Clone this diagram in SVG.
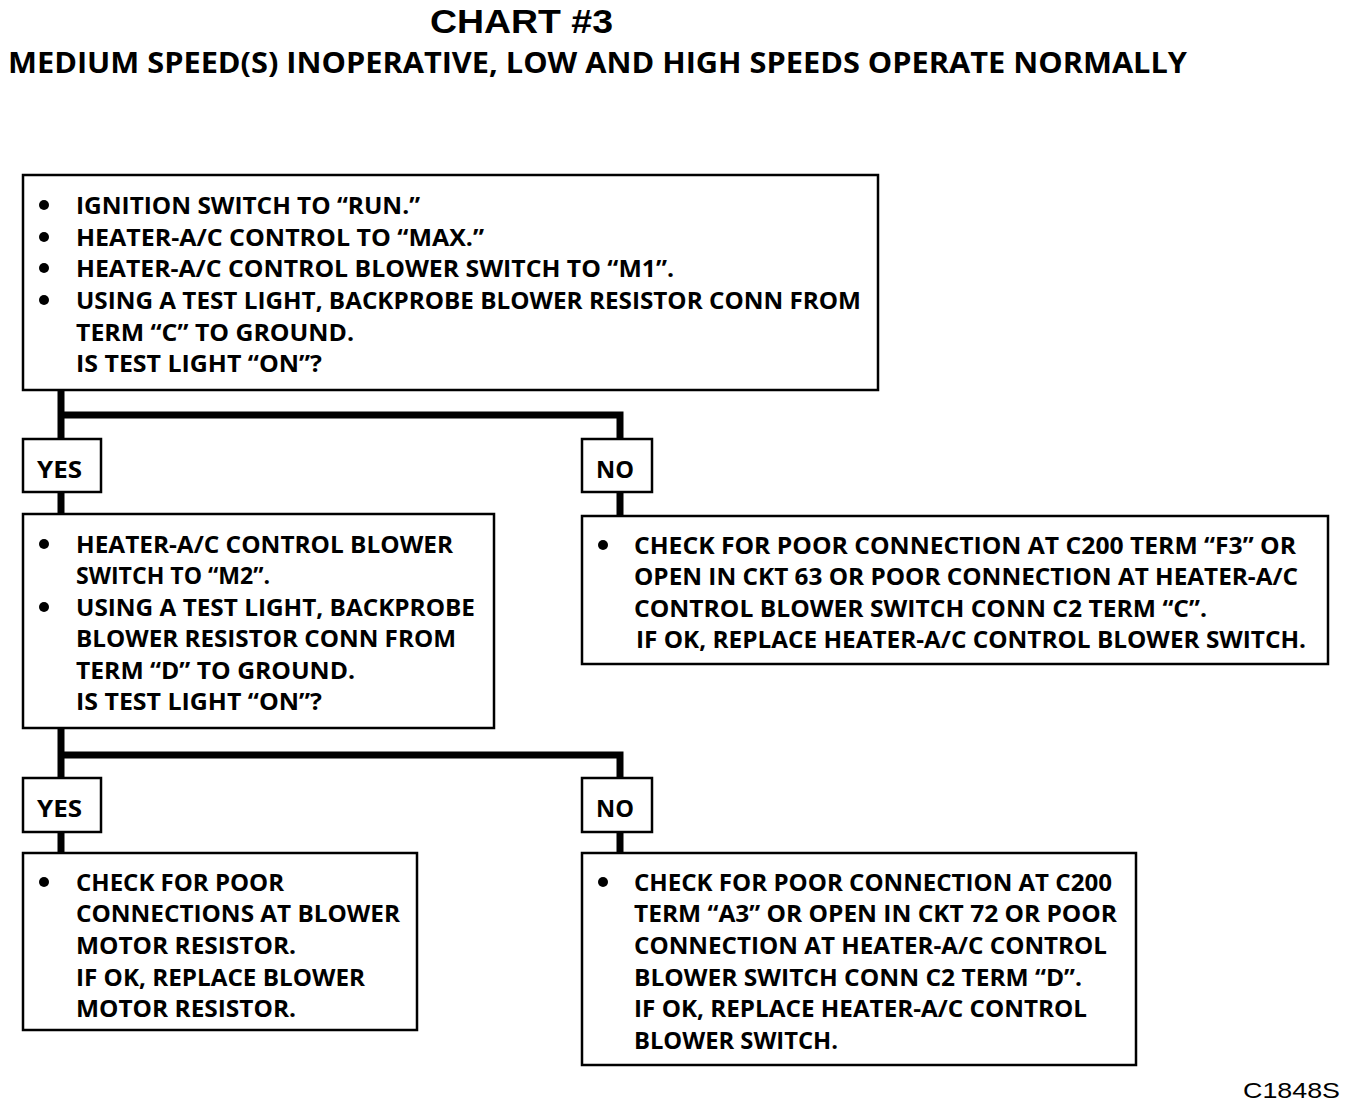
<svg xmlns="http://www.w3.org/2000/svg" width="1360" height="1110" viewBox="0 0 1360 1110">
<style>
.box{fill:#fff;stroke:#000;stroke-width:2.5}
.lab{fill:#fff;stroke:#000;stroke-width:2.5}
.t{font-family:"Open Sans","Liberation Sans",sans-serif;font-weight:bold;font-size:24px;fill:#000}
.h1{font-family:"Liberation Sans",sans-serif;font-weight:bold;font-size:34px;fill:#000}
.h2{font-family:"Open Sans","Liberation Sans",sans-serif;font-weight:bold;font-size:29px;fill:#000}
.code{font-family:"Liberation Sans",sans-serif;font-size:22px;fill:#000}
.c{fill:none;stroke:#000;stroke-width:7}
.b{fill:#000}
</style>
<rect width="1360" height="1110" fill="#fff"/>
<g id="title">
<text class="h1" x="430" y="33" textLength="183" lengthAdjust="spacingAndGlyphs">CHART #3</text>
<text class="h2" x="8" y="73" textLength="1179" lengthAdjust="spacingAndGlyphs">MEDIUM SPEED(S) INOPERATIVE, LOW AND HIGH SPEEDS OPERATE NORMALLY</text>
</g>
<g id="connectors">
<path class="c" d="M61 390 V439 M57.5 415 H620 V439"/>
<path class="c" d="M61 492 V514 M620 492 V516"/>
<path class="c" d="M61 728 V778 M57.5 755 H620 V778"/>
<path class="c" d="M61 832 V853 M620 832 V853"/>
</g>
<g id="n1">
<rect class="box" x="23" y="175" width="855" height="215"/>
<circle class="b" cx="44" cy="205" r="5"/>
<circle class="b" cx="44" cy="237" r="5"/>
<circle class="b" cx="44" cy="268" r="5"/>
<circle class="b" cx="44" cy="300" r="5"/>
<text class="t" x="76" y="214" textLength="344" lengthAdjust="spacingAndGlyphs">IGNITION SWITCH TO “RUN.”</text>
<text class="t" x="76" y="246" textLength="408" lengthAdjust="spacingAndGlyphs">HEATER-A/C CONTROL TO “MAX.”</text>
<text class="t" x="76" y="277" textLength="598" lengthAdjust="spacingAndGlyphs">HEATER-A/C CONTROL BLOWER SWITCH TO “M1”.</text>
<text class="t" x="76" y="309" textLength="785" lengthAdjust="spacingAndGlyphs">USING A TEST LIGHT, BACKPROBE BLOWER RESISTOR CONN FROM</text>
<text class="t" x="76" y="341" textLength="278" lengthAdjust="spacingAndGlyphs">TERM “C” TO GROUND.</text>
<text class="t" x="76" y="372" textLength="246" lengthAdjust="spacingAndGlyphs">IS TEST LIGHT “ON”?</text>
</g>
<g id="yes1">
<rect class="lab" x="23" y="439" width="78" height="53"/>
<text class="t" x="37" y="478" textLength="45" lengthAdjust="spacingAndGlyphs">YES</text>
</g>
<g id="no1">
<rect class="lab" x="582" y="439" width="70" height="53"/>
<text class="t" x="596" y="478" textLength="38" lengthAdjust="spacingAndGlyphs">NO</text>
</g>
<g id="n2">
<rect class="box" x="23" y="514" width="471" height="214"/>
<circle class="b" cx="44" cy="544" r="5"/>
<circle class="b" cx="44" cy="607" r="5"/>
<text class="t" x="76" y="553" textLength="377" lengthAdjust="spacingAndGlyphs">HEATER-A/C CONTROL BLOWER</text>
<text class="t" x="76" y="584" textLength="194" lengthAdjust="spacingAndGlyphs">SWITCH TO “M2”.</text>
<text class="t" x="76" y="616" textLength="399" lengthAdjust="spacingAndGlyphs">USING A TEST LIGHT, BACKPROBE</text>
<text class="t" x="76" y="647" textLength="380" lengthAdjust="spacingAndGlyphs">BLOWER RESISTOR CONN FROM</text>
<text class="t" x="76" y="679" textLength="279" lengthAdjust="spacingAndGlyphs">TERM “D” TO GROUND.</text>
<text class="t" x="76" y="710" textLength="246" lengthAdjust="spacingAndGlyphs">IS TEST LIGHT “ON”?</text>
</g>
<g id="n3">
<rect class="box" x="582" y="516" width="746" height="148"/>
<circle class="b" cx="603" cy="545" r="5"/>
<text class="t" x="634" y="554" textLength="662" lengthAdjust="spacingAndGlyphs">CHECK FOR POOR CONNECTION AT C200 TERM “F3” OR</text>
<text class="t" x="634" y="585" textLength="664" lengthAdjust="spacingAndGlyphs">OPEN IN CKT 63 OR POOR CONNECTION AT HEATER-A/C</text>
<text class="t" x="634" y="617" textLength="573" lengthAdjust="spacingAndGlyphs">CONTROL BLOWER SWITCH CONN C2 TERM “C”.</text>
<text class="t" x="636" y="648" textLength="670" lengthAdjust="spacingAndGlyphs">IF OK, REPLACE HEATER-A/C CONTROL BLOWER SWITCH.</text>
</g>
<g id="yes2">
<rect class="lab" x="23" y="778" width="78" height="54"/>
<text class="t" x="37" y="817" textLength="45" lengthAdjust="spacingAndGlyphs">YES</text>
</g>
<g id="no2">
<rect class="lab" x="582" y="778" width="70" height="54"/>
<text class="t" x="596" y="817" textLength="38" lengthAdjust="spacingAndGlyphs">NO</text>
</g>
<g id="n4">
<rect class="box" x="23" y="853" width="394" height="177"/>
<circle class="b" cx="44" cy="882" r="5"/>
<text class="t" x="76" y="891" textLength="208" lengthAdjust="spacingAndGlyphs">CHECK FOR POOR</text>
<text class="t" x="76" y="922" textLength="324" lengthAdjust="spacingAndGlyphs">CONNECTIONS AT BLOWER</text>
<text class="t" x="76" y="954" textLength="220" lengthAdjust="spacingAndGlyphs">MOTOR RESISTOR.</text>
<text class="t" x="76" y="986" textLength="289" lengthAdjust="spacingAndGlyphs">IF OK, REPLACE BLOWER</text>
<text class="t" x="76" y="1017" textLength="220" lengthAdjust="spacingAndGlyphs">MOTOR RESISTOR.</text>
</g>
<g id="n5">
<rect class="box" x="582" y="853" width="554" height="212"/>
<circle class="b" cx="603" cy="882" r="5"/>
<text class="t" x="634" y="891" textLength="478" lengthAdjust="spacingAndGlyphs">CHECK FOR POOR CONNECTION AT C200</text>
<text class="t" x="634" y="922" textLength="483" lengthAdjust="spacingAndGlyphs">TERM “A3” OR OPEN IN CKT 72 OR POOR</text>
<text class="t" x="634" y="954" textLength="473" lengthAdjust="spacingAndGlyphs">CONNECTION AT HEATER-A/C CONTROL</text>
<text class="t" x="634" y="986" textLength="448" lengthAdjust="spacingAndGlyphs">BLOWER SWITCH CONN C2 TERM “D”.</text>
<text class="t" x="634" y="1017" textLength="453" lengthAdjust="spacingAndGlyphs">IF OK, REPLACE HEATER-A/C CONTROL</text>
<text class="t" x="634" y="1049" textLength="204" lengthAdjust="spacingAndGlyphs">BLOWER SWITCH.</text>
</g>
<text class="code" x="1243" y="1098" textLength="97" lengthAdjust="spacingAndGlyphs">C1848S</text>
</svg>
